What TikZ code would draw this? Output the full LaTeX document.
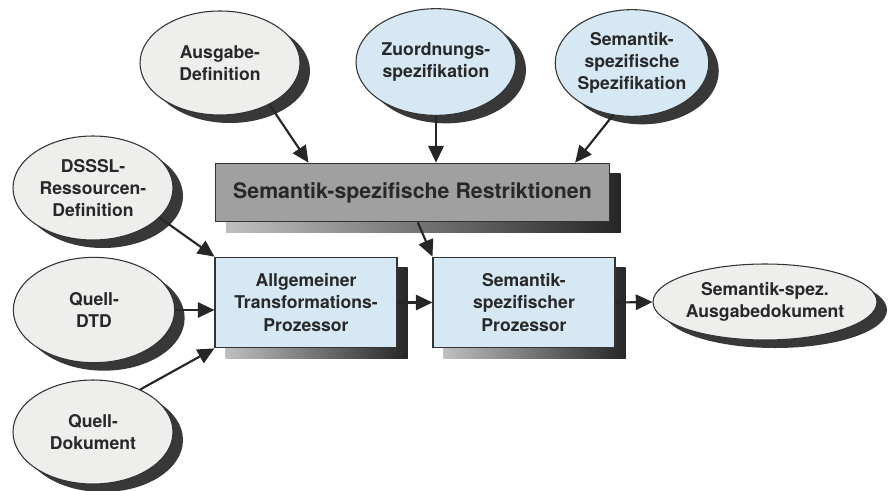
\documentclass[tikz,border=0pt]{standalone}
\usepackage{fontspec}
\setmainfont{TeX Gyre Heros}
\usetikzlibrary{shapes.geometric,shadows,arrows.meta}

\definecolor{paleblue}{RGB}{214,232,244}
\definecolor{palegray}{RGB}{238,238,236}
\definecolor{boxgray}{RGB}{160,160,160}
\definecolor{txtgray}{RGB}{40,40,40}

\tikzset{
  ovalshadow/.style={drop shadow={shadow xshift=7.5pt,shadow yshift=-6pt,opacity=1,fill=black!78}},
  boxshadow/.style={drop shadow={shadow xshift=8pt,shadow yshift=-8pt,opacity=1,left color=black!25,right color=black!85}},
  oval/.style={ellipse,draw=black!80,line width=0.8pt,inner sep=0pt,align=center,ovalshadow,
    text=txtgray,font=\bfseries\fontsize{13.2pt}{16.5pt}\selectfont},
  procbox/.style={rectangle,draw=black!80,line width=0.8pt,inner sep=0pt,align=center,boxshadow,
    text=txtgray,font=\bfseries\fontsize{13.2pt}{17pt}\selectfont},
  arr/.style={line width=1.6pt,draw=black!85,-{Triangle[length=12.5pt,width=11.5pt]}}
}

\begin{document}
\begin{tikzpicture}[x=0.75pt,y=0.75pt,yscale=-1,xscale=1]
\useasboundingbox (0,0) rectangle (893,490);

%Ellipses, top row
\node [oval,fill=palegray,minimum width=120pt,minimum height=78pt] (ausgabe) at (220,63) {Ausgabe-\\Definition};
\node [oval,fill=paleblue,minimum width=120pt,minimum height=80pt] (zuordnung) at (436,62) {Zuordnungs-\\spezifikation};
\node [oval,fill=paleblue,minimum width=114pt,minimum height=80pt] (semspez) at (632,63) {Semantik-\\spezifische\\Spezifikation};

%Ellipses, left column
\node [oval,fill=palegray,minimum width=120pt,minimum height=78pt] (dsssl) at (93,188) {DSSSL-\\Ressourcen-\\Definition};
\node [oval,fill=palegray,minimum width=121pt,minimum height=79pt] (dtd) at (94,310) {Quell-\\DTD};
\node [oval,fill=palegray,minimum width=120pt,minimum height=78pt] (dokument) at (93,432) {Quell-\\Dokument};

%Output ellipse
\node [oval,fill=palegray,minimum width=168pt,minimum height=57pt] (ausgabedok) at (765,302) {Semantik-spez.\\Ausgabedokument};

%Boxes
\node [procbox,fill=boxgray,minimum width=296pt,minimum height=44pt,
  font=\bfseries\fontsize{16pt}{18pt}\selectfont] (restr) at (412.5,192.5) {Semantik-spezifische Restriktionen};
\node [procbox,fill=paleblue,minimum width=136.5pt,minimum height=68pt] (allg) at (306,302.5) {Allgemeiner\\Transformations-\\Prozessor};
\node [procbox,fill=paleblue,minimum width=136.5pt,minimum height=68pt] (semproz) at (524,302.5) {Semantik-\\spezifischer\\Prozessor};

%Arrows into the restrictions
\draw [arr] (ausgabe.-40) -- ([xshift=-78pt]restr.north);
\draw [arr] (zuordnung.south) -- (zuordnung.south |- restr.north);
\draw [arr] (semspez.-110) -- ([xshift=122pt]restr.north);

%Arrows into the transformation processor
\draw [arr] (dsssl.-24) -- (allg.north west);
\draw [arr] (dtd.east) -- (allg.west |- dtd.east);
\draw [arr] (dokument.42) -- (allg.south west);

%Arrows to the right
\draw [arr] ([xshift=4pt]restr.south) -- (semproz.north west);
\draw [arr] (allg.east) -- (semproz.west);
\draw [arr] (semproz.east) -- (ausgabedok.west);

\end{tikzpicture}
\end{document}
